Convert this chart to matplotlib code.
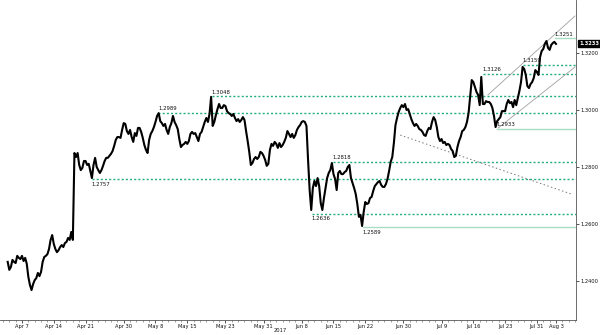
import numpy as np
import matplotlib.pyplot as plt
from matplotlib.ticker import FormatStrFormatter

# GBP/USD 6-hour closes, first bar 2017-04-04 18:00
close_apr = [1.2467, 1.2439, 1.2449, 1.2474, 1.2467, 1.2463, 1.2488, 1.2481, 1.2477, 1.2488,
             1.2470, 1.2481, 1.2460, 1.2414, 1.2386, 1.2368, 1.2389, 1.2403, 1.2410, 1.2428,
             1.2417, 1.2432, 1.2467, 1.2484, 1.2488, 1.2494, 1.2512, 1.2544, 1.2561, 1.2530,
             1.2512, 1.2501, 1.2508, 1.2519, 1.2526, 1.2519, 1.2533, 1.2537, 1.2551, 1.2544,
             1.2572, 1.2544]
close_may = [1.2849, 1.2835, 1.2849, 1.2807, 1.2789, 1.2797, 1.2821, 1.2821, 1.2807, 1.2811,
             1.2786, 1.2761, 1.2807, 1.2832, 1.2800, 1.2789, 1.2779, 1.2789, 1.2804, 1.2821,
             1.2832, 1.2832, 1.2839, 1.2846, 1.2856, 1.2874, 1.2895, 1.2905, 1.2905, 1.2902,
             1.2930, 1.2954, 1.2951, 1.2926, 1.2916, 1.2930, 1.2905, 1.2888, 1.2919, 1.2909,
             1.2937, 1.2937, 1.2923, 1.2902, 1.2877, 1.2860, 1.2849, 1.2895, 1.2916, 1.2926,
             1.2940, 1.2958, 1.2979, 1.2989, 1.2961, 1.2954, 1.2944, 1.2951, 1.2930, 1.2916,
             1.2940, 1.2954, 1.2979, 1.2958, 1.2947, 1.2933, 1.2898, 1.2870, 1.2877, 1.2881,
             1.2888, 1.2881, 1.2891]
close_jun = [1.2916, 1.2923, 1.2916, 1.2919, 1.2905, 1.2891, 1.2916, 1.2923, 1.2940, 1.2958,
             1.2972, 1.2958, 1.2986, 1.3046, 1.2944, 1.2958, 1.2982, 1.3003, 1.3021, 1.3007,
             1.3007, 1.3017, 1.3014, 1.2996, 1.2989, 1.2986, 1.2979, 1.2986, 1.2972, 1.2961,
             1.2968, 1.2958, 1.2965, 1.2975, 1.2965, 1.2926, 1.2891, 1.2853, 1.2807, 1.2814,
             1.2828, 1.2835, 1.2828, 1.2835, 1.2853, 1.2849, 1.2839, 1.2825, 1.2804, 1.2811,
             1.2860, 1.2881, 1.2874, 1.2888, 1.2881, 1.2867, 1.2884, 1.2870, 1.2877, 1.2888,
             1.2902, 1.2926, 1.2916, 1.2905, 1.2916, 1.2902, 1.2912, 1.2930, 1.2940, 1.2947,
             1.2958, 1.2961, 1.2958, 1.2944, 1.2825, 1.2719, 1.2649]
close_jul = [1.2726, 1.2751, 1.2733, 1.2761, 1.2733, 1.2673, 1.2649, 1.2691, 1.2726, 1.2761,
             1.2779, 1.2789, 1.2814, 1.2775, 1.2758, 1.2719, 1.2779, 1.2786, 1.2775, 1.2775,
             1.2782, 1.2786, 1.2800, 1.2807, 1.2761, 1.2744, 1.2726, 1.2705, 1.2670, 1.2625,
             1.2632, 1.2593, 1.2642, 1.2677, 1.2670, 1.2673, 1.2691, 1.2695, 1.2716, 1.2733,
             1.2740, 1.2747, 1.2751, 1.2737, 1.2730, 1.2730, 1.2740, 1.2758, 1.2786, 1.2818,
             1.2835, 1.2884, 1.2947, 1.2972, 1.2993, 1.3007, 1.3017, 1.3010, 1.3021, 1.3000,
             1.3003, 1.2986, 1.2968, 1.2954, 1.2944, 1.2951, 1.2944, 1.2933, 1.2930, 1.2923,
             1.2912, 1.2909, 1.2926, 1.2937, 1.2933, 1.2958, 1.2975, 1.2965, 1.2940, 1.2905,
             1.2891, 1.2898, 1.2884, 1.2888, 1.2877, 1.2881, 1.2877, 1.2863, 1.2856, 1.2835,
             1.2839, 1.2870, 1.2891, 1.2905, 1.2926, 1.2930, 1.2940, 1.2958, 1.2989, 1.3049,
             1.3105, 1.3098, 1.3081, 1.3063, 1.3053, 1.3017, 1.3116, 1.3021, 1.3021, 1.3031,
             1.3028, 1.3028, 1.3021, 1.3007, 1.2979, 1.2940, 1.2961, 1.2968, 1.2975, 1.2996,
             1.2996, 1.2996, 1.3021, 1.3035, 1.3024, 1.3028, 1.3010, 1.3035, 1.3017, 1.3042,
             1.3067, 1.3098, 1.3151, 1.3144, 1.3123, 1.3084, 1.3077, 1.3091, 1.3098, 1.3112,
             1.3140, 1.3133, 1.3123, 1.3186, 1.3207, 1.3214, 1.3232, 1.3242, 1.3218, 1.3211,
             1.3228, 1.3235, 1.3239, 1.3232]
close = close_apr + close_may + close_jun + close_jul
first_bar = '2017-04-04 18'
bar_hours = 6
last_price = 1.3233

# support / resistance levels and where they start
levels = [1.2757, 1.2989, 1.3048, 1.2636, 1.2818, 1.2589, 1.3126, 1.2933, 1.3159, 1.3251]
level_from = ['2017-04-24 00', '2017-05-08 10', '2017-05-18 21', '2017-06-09 14', '2017-06-14 21',
              '2017-06-21 14', '2017-07-18 12', '2017-07-20 17', '2017-07-26 19', '2017-08-02 19']
level_solid = [False, False, False, False, False, True, False, True, False, True]
label_below = [True, False, False, True, False, True, False, False, False, False]

# trend lines (two points each)
channel_up = (['2017-07-19 07', '2017-08-08 00'], [1.3053, 1.3330])
channel_low = (['2017-07-20 22', '2017-08-08 00'], [1.2937, 1.3151])
trend_down = (['2017-06-29 12', '2017-08-07 10'], [1.2912, 1.2705])

tick_dates = ['2017-04-07', '2017-04-14', '2017-04-21', '2017-04-30', '2017-05-08', '2017-05-15',
              '2017-05-23', '2017-05-31', '2017-06-08', '2017-06-15', '2017-06-22', '2017-06-30',
              '2017-07-09', '2017-07-16', '2017-07-23', '2017-07-31', '2017-08-03']
tick_labels = ['Apr 7', 'Apr 14', 'Apr 21', 'Apr 30', 'May 8', 'May 15', 'May 23', 'May 31',
               'Jun 8', 'Jun 15', 'Jun 22', 'Jun 30', 'Jul 9', 'Jul 16', 'Jul 23', 'Jul 31', 'Aug 3']
price_ticks = [1.24, 1.26, 1.28, 1.30, 1.32]


def tday(stamp):
    # trading-day axis (weekends removed), 0 = 2017-04-07
    day, hour = stamp.split()
    return np.busday_count('2017-04-07', day) + int(hour) / 24


x = tday(first_bar) + np.arange(len(close)) * bar_hours / 24
x_end = 87.15

fig = plt.figure(figsize=(6, 3.35), dpi=100)
ax = fig.add_axes([0, 0.0448, 0.96, 0.9552])

dash_col = '#22b07a'
solid_col = '#a9ddc5'
for lv, st, solid, below in zip(levels, level_from, level_solid, label_below):
    x0 = tday(st)
    if solid:
        ax.plot([x0, x_end], [lv, lv], color=solid_col, lw=1.0)
    else:
        ax.plot([x0, x_end], [lv, lv], color=dash_col, lw=1.0, linestyle=(0, (1.5, 1.5)))
    off = -0.0009 if below else 0.0006
    ax.text(x0, lv + off, f'{lv:.4f}', fontsize=3.9, va='top' if below else 'bottom',
            ha='left', color='#111111')

for (d, p) in [channel_up, channel_low]:
    ax.plot([tday(s) for s in d], p, color='#a0a0a0', lw=0.6)
d, p = trend_down
ax.plot([tday(s) for s in d], p, color='#777777', lw=0.7, linestyle=(0, (1.5, 2.5)))

ax.plot(x, close, color='black', lw=1.5)

ax.set_xlim(-3.46, x_end)
ax.set_ylim(1.2263, 1.3386)

for side in ['left', 'top']:
    ax.spines[side].set_visible(False)
for side in ['right', 'bottom']:
    ax.spines[side].set_color('#555555')
    ax.spines[side].set_linewidth(0.6)

ax.yaxis.tick_right()
ax.set_yticks(price_ticks)
ax.yaxis.set_major_formatter(FormatStrFormatter('%.4f'))
ax.tick_params(axis='y', labelsize=3.7, length=2, width=0.5, pad=1, colors='#111111')

ax.set_xticks([tday(dt + ' 00') for dt in tick_dates])
ax.set_xticklabels(tick_labels)
ax.set_xticks(np.arange(-3, 88), minor=True)
ax.tick_params(axis='x', which='major', labelsize=3.7, length=2, width=0.5, pad=1, colors='#111111')
ax.tick_params(axis='x', which='minor', length=1.2, width=0.4, colors='#555555')

fig.text(280 / 600, 1 - 330 / 335, '2017', fontsize=3.7, ha='center', va='center', color='#111111')

ax.annotate(f'{last_price:.4f}', xy=(1, last_price), xycoords=('axes fraction', 'data'),
            xytext=(2.5, 0), textcoords='offset points', fontsize=3.7, color='white',
            va='center', ha='left', fontweight='bold',
            bbox=dict(boxstyle='square,pad=0.25', fc='black', ec='black'))

fig.savefig('out.png', dpi=100)
